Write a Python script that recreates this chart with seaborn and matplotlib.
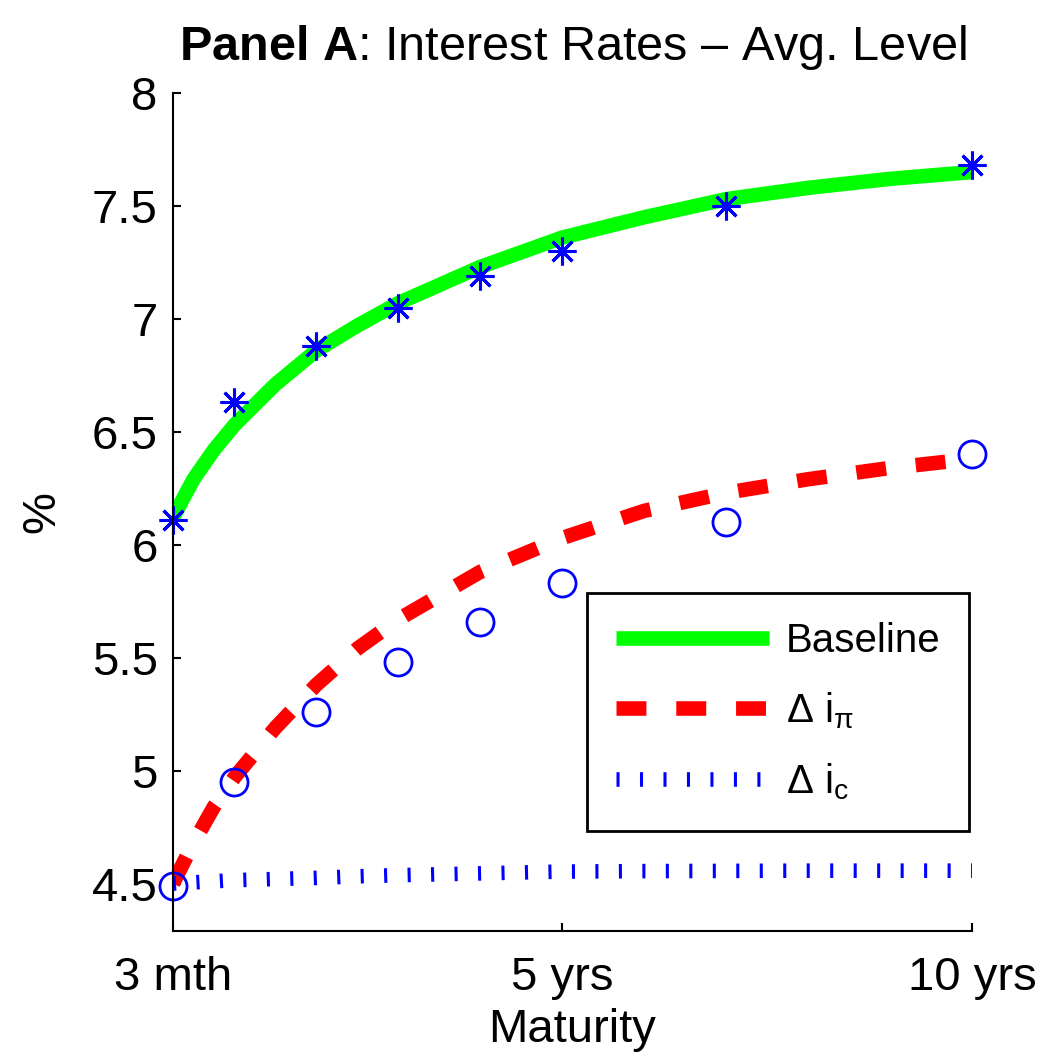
import numpy as np
import pandas as pd
import matplotlib
matplotlib.use("Agg")
import matplotlib.pyplot as plt
import seaborn as sns

# maturities in years for the model curves
maturity = [0.25, 0.5, 0.75, 1, 1.5, 2, 2.5, 3, 4, 5, 6, 7, 8, 9, 10]
baseline = [6.12, 6.29, 6.42, 6.53, 6.71, 6.86, 6.97, 7.07, 7.23, 7.36, 7.45, 7.53, 7.58, 7.62, 7.65]
delta_ipi = [4.50, 4.68, 4.84, 4.97, 5.19, 5.38, 5.54, 5.67, 5.88, 6.03, 6.15, 6.23, 6.29, 6.34, 6.38]
delta_ic = [4.50, 4.505, 4.51, 4.515, 4.52, 4.525, 4.532, 4.537, 4.545, 4.553, 4.555, 4.556, 4.557, 4.557, 4.557]

# observed data points
obs_maturity = [0.25, 1, 2, 3, 4, 5, 7, 10]
obs_stars = [6.11, 6.63, 6.88, 7.05, 7.19, 7.30, 7.50, 7.68]
obs_circles = [4.49, 4.95, 5.26, 5.48, 5.66, 5.83, 6.10, 6.40]

xticks = [0.25, 5, 10]
xticklabels = ["3 mth", "5 yrs", "10 yrs"]
yticks = [4.5, 5, 5.5, 6, 6.5, 7, 7.5, 8]
yticklabels = ["4.5", "5", "5.5", "6", "6.5", "7", "7.5", "8"]

sns.set_style("ticks")
plt.rcParams["font.family"] = ["Liberation Sans", "DejaVu Sans"]
plt.rcParams["mathtext.fontset"] = "custom"
plt.rcParams["mathtext.rm"] = "Liberation Sans"
plt.rcParams["mathtext.it"] = "Liberation Sans"
plt.rcParams["mathtext.sf"] = "Liberation Sans"
plt.rcParams["mathtext.bf"] = "Liberation Sans:bold"
plt.rcParams["text.color"] = "black"
plt.rcParams["axes.labelcolor"] = "black"

curves = pd.DataFrame({"m": maturity, "base": baseline, "pi": delta_ipi, "c": delta_ic})
obs = pd.DataFrame({"m": obs_maturity, "star": obs_stars, "circ": obs_circles})

fig = plt.figure(figsize=(10.49, 10.63), dpi=100)
ax = fig.add_axes([0.1649, 0.1242, 0.7617, 0.7883])

blue = (0, 0, 1)
lw = 10.5
sns.lineplot(data=curves, x="m", y="base", ax=ax, color=(0, 1, 0), linewidth=lw,
             solid_capstyle="butt")
sns.lineplot(data=curves, x="m", y="pi", ax=ax, color=(1, 0, 0), linewidth=lw)
ax.lines[-1].set_dashes((2.05, 2.05))
sns.lineplot(data=curves, x="m", y="c", ax=ax, color=blue, linewidth=lw)
ax.lines[-1].set_dashes((0.21, 1.4))

h_base, h_pi, h_c = ax.lines[0], ax.lines[1], ax.lines[2]

sns.lineplot(data=obs, x="m", y="star", ax=ax, color=blue, linestyle="",
             marker=(8, 2, 0), markersize=20, markeredgecolor=blue,
             markeredgewidth=2.2, clip_on=False)
sns.lineplot(data=obs, x="m", y="circ", ax=ax, color=blue, linestyle="",
             marker="o", markersize=19.5, markerfacecolor="none",
             markeredgecolor=blue, markeredgewidth=2, clip_on=False)

ax.set_xlim(0.25, 10)
ax.set_ylim(4.29, 8)
ax.set_xticks(xticks)
ax.set_xticklabels(xticklabels)
ax.set_yticks(yticks)
ax.set_yticklabels(yticklabels)
ax.tick_params(direction="in", length=6, width=1.5, labelsize=34, colors="black")
ax.tick_params(axis="y", pad=11)
ax.tick_params(axis="x", pad=18)
for s in ["left", "bottom"]:
    ax.spines[s].set_linewidth(1.5)
    ax.spines[s].set_color("black")
sns.despine(ax=ax)

ax.set_xlabel("Maturity", fontsize=34, labelpad=6)
ax.set_ylabel("%", fontsize=34, labelpad=20)
ax.set_title(r"$\mathbf{Panel\ A}$: Interest Rates – Avg. Level", fontsize=35, pad=24)

leg = ax.legend([h_base, h_pi, h_c],
                ["Baseline", r"$\Delta\ i_{\pi}$", r"$\Delta\ i_{c}$"],
                loc="upper left", bbox_to_anchor=(0.518, 0.4033),
                fontsize=29, handlelength=3.8, handletextpad=0.42,
                borderpad=0.72, borderaxespad=0, labelspacing=0.75,
                fancybox=False, framealpha=1, edgecolor="black")
leg.get_frame().set_linewidth(2)

fig.savefig("out.png", dpi=100)
